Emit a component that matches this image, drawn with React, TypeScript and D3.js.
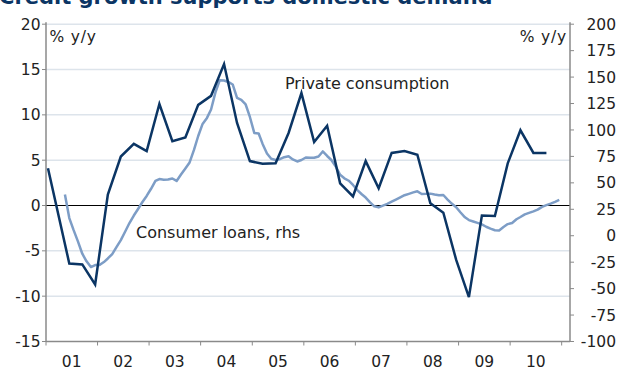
import React from "react";
import * as d3 from "d3";

const W = 619;
const H = 371;

const title = "Credit growth supports domestic demand";
const yearLabels = ["01", "02", "03", "04", "05", "06", "07", "08", "09", "10"];
const leftTicks = [20, 15, 10, 5, 0, -5, -10, -15];
const rightTicks = [200, 175, 150, 125, 100, 75, 50, 25, 0, -25, -50, -75, -100];

// Private consumption, % y/y (lhs), quarterly; first obs Jan 2001 then Q2 2001 .. Q4 2010
const consumptionValues = [
  4.1,
  -6.4, -6.5, -8.7,
  1.2, 5.4, 6.8, 6.0,
  11.2, 7.1, 7.5, 11.1,
  12.1, 15.6, 9.1, 4.9,
  4.6, 4.65, 8.0, 12.4,
  7.0, 8.8, 2.45, 1.0,
  4.9, 1.9, 5.8, 6.0,
  5.6, 0.25, -0.8, -6.0,
  -10.1, -1.1, -1.15, 4.65,
  8.3, 5.8, 5.8,
];

// Consumer loans, % y/y (rhs), monthly May 2001 .. Dec 2010
const loansValues = [
  39.0, 16.7, 5.5, -5.3, -17.0, -24.2, -29.6, -27.7,
  -27.7, -24.9, -21.5, -17.3, -10.7, -4.1, 3.8, 12.0, 19.1, 25.3, 31.9, 37.6,
  44.4, 51.8, 53.6, 53.0, 53.2, 54.1, 51.8, 57.9, 63.6, 69.3, 81.1, 94.3,
  105.7, 111.4, 119.4, 135.5, 147.0, 146.8, 145.4, 143.0, 130.3, 128.4, 124.1, 112.3,
  97.2, 96.7, 86.8, 77.8, 72.8, 71.6, 72.4, 74.3, 75.1, 72.1, 70.2, 71.6,
  74.0, 73.7, 73.7, 74.9, 79.7, 75.4, 71.6, 65.5, 57.6, 54.3, 52.0, 48.0,
  43.2, 39.2, 36.1, 31.6, 27.8, 26.8, 28.5, 30.1, 32.2, 34.2, 36.3, 38.3,
  39.6, 41.0, 42.0, 39.5, 39.6, 39.8, 39.0, 38.3, 38.5, 34.2, 30.2, 27.0,
  22.0, 17.4, 14.8, 13.5, 12.2, 10.7, 8.5, 6.7, 5.2, 4.9, 8.2, 11.0,
  12.1, 15.6, 17.7, 20.2, 21.6, 23.1, 24.7, 27.3, 28.9, 30.3, 32.0, 33.8,
];

const consumptionDates = [
  new Date(2001, 0, 15),
  ...d3.range(consumptionValues.length - 1).map((i) => new Date(2001, 5 + 3 * i, 15)),
];
const loansDates = loansValues.map((_, i) => new Date(2001, 4 + i, 15));

const L = 46;
const R = 570;
const T = 24.2;
const B = 341.5;

const FONT = "'DejaVu Sans', Verdana, sans-serif";
const NAVY = "#0b3564";
const LIGHT = "#7d9dc6";
const AXIS = "#8a8a8a";
const GRID = "#dde4eb";

export default function App() {
  const x = d3.scaleTime().domain([new Date(2001, 0, 1), new Date(2011, 2, 1)]).range([L, R]);
  const yL = d3.scaleLinear().domain([-15, 20]).range([B, T]);
  const yR = d3.scaleLinear().domain([-100, 200]).range([B, T]);

  const consLine = d3
    .line<number>()
    .x((_, i) => x(consumptionDates[i]))
    .y((d) => yL(d));
  const loansLine = d3
    .line<number>()
    .x((_, i) => x(loansDates[i]))
    .y((d) => yR(d));

  const yearTicks = d3.range(2001, 2012).map((y) => new Date(y, 0, 1));

  return (
    <svg
      width={W}
      height={H}
      style={{ position: "absolute", left: 0, top: 0, background: "#fff" }}
      fontFamily={FONT}
    >
      <text x={-1} y={4} fontSize={21} fontWeight="bold" fill="#0b3564">
        {title}
      </text>

      {/* gridlines */}
      {leftTicks
        .filter((t) => t !== 0 && t !== -15)
        .map((t) => (
          <line key={"g" + t} x1={L} x2={R} y1={yL(t)} y2={yL(t)} stroke={GRID} strokeWidth={1.5} />
        ))}
      <line x1={L} x2={R} y1={yL(0)} y2={yL(0)} stroke="#000" strokeWidth={1} />

      {/* axes */}
      <line x1={L} x2={L} y1={T - 2} y2={B} stroke={AXIS} strokeWidth={1.5} />
      <line x1={R} x2={R} y1={T - 2} y2={B} stroke={AXIS} strokeWidth={1.5} />
      <line x1={L} x2={R} y1={B} y2={B} stroke={AXIS} strokeWidth={1.5} />

      {leftTicks.map((t) => (
        <g key={"lt" + t}>
          <line x1={L - 4} x2={L} y1={yL(t)} y2={yL(t)} stroke={AXIS} strokeWidth={1} />
          <text x={40.5} y={yL(t)} dy="0.36em" textAnchor="end" fontSize={15.5} fill="#222">
            {t}
          </text>
        </g>
      ))}
      {rightTicks.map((t) => (
        <g key={"rt" + t}>
          <line x1={R} x2={R + 4} y1={yR(t)} y2={yR(t)} stroke={AXIS} strokeWidth={1} />
          <text x={616} y={yR(t)} dy="0.36em" textAnchor="end" fontSize={15.5} fill="#222">
            {t}
          </text>
        </g>
      ))}
      {yearTicks.map((d, i) => (
        <line key={"xt" + i} x1={x(d)} x2={x(d)} y1={B} y2={B + 4} stroke={AXIS} strokeWidth={1} />
      ))}
      {yearLabels.map((lab, i) => (
        <text
          key={"xl" + lab}
          x={x(new Date(2001 + i, 6, 2))}
          y={367}
          textAnchor="middle"
          fontSize={15.5}
          fill="#222"
        >
          {lab}
        </text>
      ))}

      <text x={49.5} y={42} fontSize={15.5} fill="#222" letterSpacing={0.8}>
        % y/y
      </text>
      <text x={567} y={42} fontSize={15.5} fill="#222" textAnchor="end" letterSpacing={0.8}>
        % y/y
      </text>

      <path d={loansLine(loansValues) || ""} fill="none" stroke={LIGHT} strokeWidth={2.5} strokeLinejoin="round" />
      <path d={consLine(consumptionValues) || ""} fill="none" stroke={NAVY} strokeWidth={2.5} strokeLinejoin="miter" />

      <text x={285} y={89} fontSize={16} fill="#222">
        Private consumption
      </text>
      <text x={136} y={237.5} fontSize={16} fill="#222">
        Consumer loans, rhs
      </text>
    </svg>
  );
}
